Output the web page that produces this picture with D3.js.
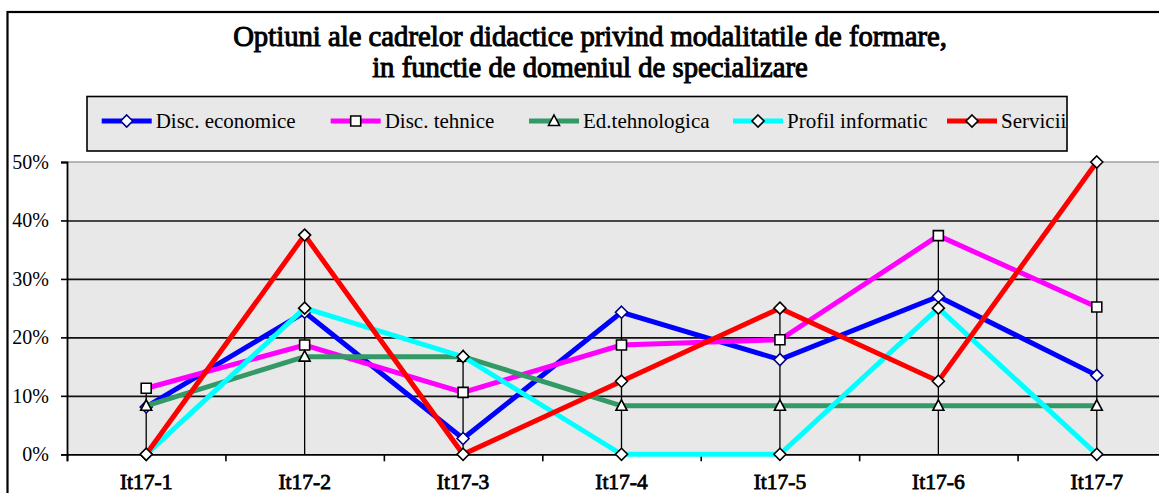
<!DOCTYPE html>
<html>
<head>
<meta charset="utf-8">
<script src="https://cdn.jsdelivr.net/npm/d3@7"></script>
<style>
  body { margin: 0; background: #fff; overflow: hidden; }
  svg { display: block; }
  svg text { font-family: "Liberation Serif", Tinos, "Times New Roman", Times, serif; }
  .bold { font-weight: normal; stroke: #000; paint-order: fill; }
</style>
</head>
<body>
<main></main>
<script>
const categories = ["It17-1", "It17-2", "It17-3", "It17-4", "It17-5", "It17-6", "It17-7"];
const seriesNames = ["Disc. economice", "Disc. tehnice", "Ed.tehnologica", "Profil informatic", "Servicii"];
const economice = [0.081, 0.243, 0.027, 0.243, 0.162, 0.270, 0.135];
const tehnice = [0.113, 0.187, 0.106, 0.187, 0.196, 0.374, 0.252];
const tehnologica = [0.083, 0.167, 0.167, 0.083, 0.083, 0.083, 0.083];
const informatic = [0, 0.25, 0.167, 0, 0, 0.25, 0];
const servicii = [0, 0.375, 0, 0.125, 0.25, 0.125, 0.5];
const yTicks = [0, 0.1, 0.2, 0.3, 0.4, 0.5];
const titleLines = ["Optiuni ale cadrelor didactice privind modalitatile de formare,",
                    "in functie de domeniul de specializare"];

const w = 1159, h = 493;
const plotL = 67, plotR = 1176, plotT = 162, plotB = 454.3;
// legend item left edges
const legendX = [101.7, 330.7, 529, 733, 947];

const series = [
  {name: seriesNames[0], values: economice, color: "#0000ff", marker: "diamond", mstroke: "#000080"},
  {name: seriesNames[1], values: tehnice, color: "#ff00ff", marker: "square", mstroke: "#000"},
  {name: seriesNames[2], values: tehnologica, color: "#339966", marker: "triangle", mstroke: "#000"},
  {name: seriesNames[3], values: informatic, color: "#00ffff", marker: "diamond", mstroke: "#000"},
  {name: seriesNames[4], values: servicii, color: "#ff0000", marker: "diamond", mstroke: "#000"}
];

const svg = d3.select("main").append("svg")
  .attr("width", w)
  .attr("height", h);

// chart frame
svg.append("rect")
  .attr("x", 7.5).attr("y", 12)
  .attr("width", w + 20).attr("height", h + 20)
  .attr("fill", "#fff")
  .attr("stroke", "#000")
  .attr("stroke-width", 2.2);

const x = d3.scaleBand().domain(categories).range([plotL, plotR]).padding(0);
const xb = d3.scaleLinear().domain([0, categories.length]).range([plotL, plotR]);
const y = d3.scaleLinear().domain([0, 0.5]).range([plotB, plotT]);
const cx = c => x(c) + x.bandwidth() / 2;

// plot area
svg.append("rect")
  .attr("x", plotL).attr("y", plotT)
  .attr("width", plotR - plotL).attr("height", plotB - plotT)
  .attr("fill", "#e8e8e8");

// gridlines
svg.append("g")
  .attr("transform", "translate(" + plotL + ",0)")
  .call(d3.axisLeft(y).tickValues(yTicks.slice(1, -1)).tickSize(-(plotR - plotL)).tickFormat(""))
  .call(g => g.select(".domain").remove())
  .call(g => g.selectAll("line").attr("stroke", "#111").attr("stroke-width", 1.6));
svg.append("line")
  .attr("x1", plotL).attr("x2", plotR)
  .attr("y1", y(0.5)).attr("y2", y(0.5))
  .attr("stroke", "#a0a0a0").attr("stroke-width", 1.6);

// y axis
svg.append("g")
  .attr("transform", "translate(" + plotL + ",0)")
  .call(d3.axisLeft(y).tickValues(yTicks).tickSize(6).tickPadding(12).tickFormat(d3.format(".0%")))
  .call(g => g.select(".domain").attr("stroke", "#000").attr("stroke-width", 1.8))
  .call(g => g.selectAll("line").attr("stroke", "#000").attr("stroke-width", 1.6))
  .call(g => g.selectAll("text")
    .attr("fill", "#000")
    .style("font-size", "20px"));

// x axis ticks between categories
svg.append("g")
  .attr("transform", "translate(0," + plotB + ")")
  .call(d3.axisBottom(xb).tickValues(d3.range(categories.length + 1)).tickSize(7).tickFormat(""))
  .call(g => g.select(".domain").attr("stroke", "#000").attr("stroke-width", 1.8))
  .call(g => g.selectAll("line").attr("stroke", "#000").attr("stroke-width", 1.6));

// x labels
svg.append("g")
  .attr("transform", "translate(0," + plotB + ")")
  .call(d3.axisBottom(x).tickSize(0).tickPadding(0))
  .call(g => g.select(".domain").remove())
  .call(g => g.selectAll("text")
    .attr("class", "bold")
    .attr("y", 35).attr("dy", 0)
    .attr("fill", "#000")
    .attr("stroke-width", 0.8)
    .style("font-size", "21.5px"));

// drop lines
svg.append("g").selectAll("line")
  .data(categories)
  .join("line")
  .attr("x1", cx).attr("x2", cx)
  .attr("y1", (c, i) => y(d3.max(series, s => s.values[i])))
  .attr("y2", y(0))
  .attr("stroke", "#000")
  .attr("stroke-width", 1.3);

function markerPath(type) {
  if (type === "diamond") return "M0,-6L6,0L0,6L-6,0Z";
  if (type === "square") return "M-5,-5H5V5H-5Z";
  return "M0,-6L5.5,4.5H-5.5Z";
}

const line = d3.line().x((d, i) => cx(categories[i])).y(d => y(d));

series.forEach(s => {
  svg.append("path")
    .datum(s.values)
    .attr("d", line)
    .attr("fill", "none")
    .attr("stroke", s.color)
    .attr("stroke-width", 5)
    .attr("stroke-linejoin", "miter");
  svg.append("g").selectAll("path")
    .data(s.values)
    .join("path")
    .attr("transform", (d, i) => "translate(" + cx(categories[i]) + "," + y(d) + ")")
    .attr("d", markerPath(s.marker))
    .attr("fill", "#fff")
    .attr("stroke", s.mstroke)
    .attr("stroke-width", 1.6);
});

// title
svg.append("text")
  .attr("class", "bold")
  .attr("x", 590)
  .attr("text-anchor", "middle")
  .attr("stroke-width", 1)
  .style("font-size", "28.7px")
  .selectAll("tspan")
  .data(titleLines)
  .join("tspan")
  .attr("x", 590)
  .attr("y", (d, i) => 46 + i * 31)
  .text(d => d);

// legend
const legend = svg.append("g");
legend.append("rect")
  .attr("x", 87).attr("y", 96.5)
  .attr("width", 980).attr("height", 54.5)
  .attr("fill", "#e8e8e8")
  .attr("stroke", "#000")
  .attr("stroke-width", 1.6);
series.forEach((s, i) => {
  const item = legend.append("g").attr("transform", "translate(" + legendX[i] + ",121)");
  item.append("line")
    .attr("x1", 0).attr("x2", 50)
    .attr("stroke", s.color).attr("stroke-width", 5);
  item.append("path")
    .attr("transform", "translate(25,0)")
    .attr("d", markerPath(s.marker))
    .attr("fill", "#fff")
    .attr("stroke", s.mstroke)
    .attr("stroke-width", 1.6);
  item.append("text")
    .attr("x", 54).attr("y", 7)
    .style("font-size", "21px")
    .text(s.name);
});
</script>
</body>
</html>
